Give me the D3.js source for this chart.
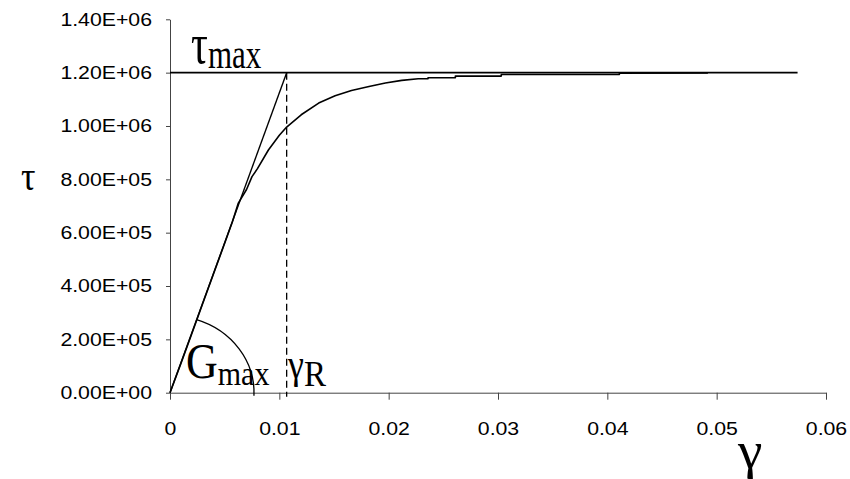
<!DOCTYPE html>
<html>
<head>
<meta charset="utf-8">
<script src="https://cdn.jsdelivr.net/npm/d3@7"></script>
<style>
  html, body { margin: 0; padding: 0; background: #fff; }
  svg { display: block; }
</style>
</head>
<body>
<svg id="chart" width="850" height="479"></svg>
<script>
// ---- data ----
const gamma = [0, 0.0010, 0.0020, 0.0030, 0.0040, 0.0050, 0.0057, 0.00625, 0.0070, 0.0075, 0.0080, 0.0090, 0.0100, 0.01067, 0.0120, 0.0136, 0.0151, 0.0166, 0.0182, 0.0197, 0.0212, 0.0227, 0.0236, 0.0236, 0.0261, 0.0261, 0.0303, 0.0303, 0.0411, 0.0411, 0.0492];
const tau   = [0, 1.10e5, 2.22e5, 3.35e5, 4.48e5, 5.60e5, 6.40e5, 7.11e5, 7.62e5, 8.10e5, 8.40e5, 9.10e5, 9.65e5, 9.96e5, 1.042e6, 1.086e6, 1.113e6, 1.133e6, 1.148e6, 1.161e6, 1.171e6, 1.177e6, 1.177e6, 1.181e6, 1.181e6, 1.187e6, 1.187e6, 1.193e6, 1.193e6, 1.198e6, 1.199e6];
const tauMax = 1.2e6;
const gammaR = 0.01067;
const tauLineEnd = 0.0574;      // end of the horizontal tau_max line
const arcRadiusGamma = 0.00768; // angle-marker arc radius along gamma
const arcRadiusTau = 2.887e5;   // angle-marker arc radius along tau
const xTickValues = [0, 0.01, 0.02, 0.03, 0.04, 0.05, 0.06];
const xTickLabels = ["0", "0.01", "0.02", "0.03", "0.04", "0.05", "0.06"];
const yTickValues = [0, 2e5, 4e5, 6e5, 8e5, 1e6, 1.2e6, 1.4e6];
const yTickLabels = ["0.00E+00", "2.00E+05", "4.00E+05", "6.00E+05", "8.00E+05", "1.00E+06", "1.20E+06", "1.40E+06"];

// ---- layout ----
const margin = {left: 170, right: 24, top: 19.3, bottom: 86.3};
const W = 850, H = 479;
const svg = d3.select("#chart");
const x = d3.scaleLinear().domain([0, 0.06]).range([margin.left, W - margin.right]);
const y = d3.scaleLinear().domain([0, 1.4e6]).range([H - margin.bottom, margin.top]);

const sans = "'Liberation Sans', Arial, sans-serif";
const serif = "'Liberation Serif', 'Times New Roman', serif";
const tickFont = 18.5, tickStretch = 1.15;

// axes
const yAxis = d3.axisLeft(y).tickValues(yTickValues)
  .tickFormat((d, i) => yTickLabels[i]).tickSize(4).tickPadding(14).tickSizeOuter(0);
const gy = svg.append("g").attr("transform", `translate(${margin.left},0)`).call(yAxis);
const xAxis = d3.axisBottom(x).tickValues(xTickValues)
  .tickFormat((d, i) => xTickLabels[i]).tickSize(7).tickPadding(22).tickSizeOuter(0);
const gx = svg.append("g").attr("transform", `translate(0,${y(0)})`).call(xAxis);
[gx, gy].forEach(g => {
  g.attr("font-size", null).attr("font-family", null);
  g.select(".domain").attr("stroke", "#444").attr("stroke-width", 1);
  g.selectAll(".tick line").attr("stroke", "#444");
  g.selectAll(".tick text").attr("font-family", sans).attr("font-size", tickFont).attr("fill", "#000")
    .attr("transform", `scale(${tickStretch},1)`);
});
gy.selectAll(".tick text").attr("x", -(4 + 14) / tickStretch);

// tau_max horizontal line
svg.append("line")
  .attr("x1", x(0)).attr("x2", x(tauLineEnd))
  .attr("y1", y(tauMax)).attr("y2", y(tauMax))
  .attr("stroke", "#000").attr("stroke-width", 1.6);

// tangent line
svg.append("line")
  .attr("x1", x(0)).attr("y1", y(0))
  .attr("x2", x(gammaR)).attr("y2", y(tauMax))
  .attr("stroke", "#000").attr("stroke-width", 1.4);

// dashed gamma_R line
svg.append("line")
  .attr("x1", x(gammaR)).attr("x2", x(gammaR))
  .attr("y1", y(tauMax)).attr("y2", y(-1.5e4))
  .attr("stroke", "#000").attr("stroke-width", 1.3)
  .attr("stroke-dasharray", "7,4");

// curve
const line = d3.line().x((d, i) => x(gamma[i])).y((d, i) => y(tau[i]));
svg.append("path").datum(tau)
  .attr("d", line)
  .attr("fill", "none").attr("stroke", "#000").attr("stroke-width", 1.6)
  .attr("stroke-linejoin", "round");

// angle arc (G_max marker)
const rx = x(arcRadiusGamma) - x(0);
const ry = y(0) - y(arcRadiusTau);
const slopePx = (y(0) - y(tauMax)) / (x(gammaR) - x(0));
const t = Math.atan(slopePx * rx / ry);
const sx = x(0) + rx * Math.cos(t), sy = y(0) - ry * Math.sin(t);
svg.append("path")
  .attr("d", `M${sx},${sy} A${rx},${ry} 0 0 1 ${x(0) + rx},${y(0) + 3}`)
  .attr("fill", "none").attr("stroke", "#000").attr("stroke-width", 1.3);

// labels
function label(px, py, parts, sy, sxs) {
  const g = svg.append("g").attr("transform", `translate(${px},${py}) scale(${sxs || 1},${sy})`);
  const tx = g.append("text").attr("font-family", serif).attr("fill", "#000");
  parts.forEach(p => {
    tx.append("tspan").attr("font-size", p.size).attr("dy", p.dy || 0).text(p.t);
  });
  return g;
}
label(191, 63, [{t: "τ", size: 42}, {t: "max", size: 31, dy: 3.5}], 1.35);
label(186, 378, [{t: "G", size: 44}, {t: "max", size: 30, dy: 6}], 1.15);
label(288, 378, [{t: "γ", size: 36}, {t: "R", size: 33, dy: 7}], 1.1);
label(21, 190, [{t: "τ", size: 36}], 1.15);
label(738, 468, [{t: "γ", size: 46}], 1.15, 1.2);
</script>
</body>
</html>
